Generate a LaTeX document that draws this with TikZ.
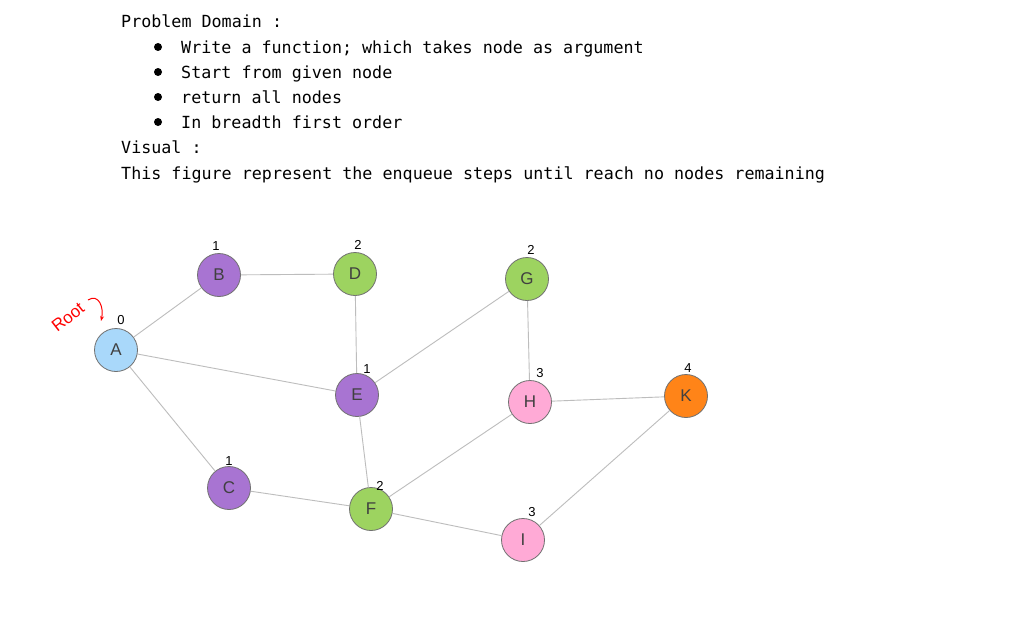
\documentclass[tikz,border=0pt]{standalone}
\usepackage{fontspec}
\setmainfont{Liberation Sans}
\newfontfamily\monof{DejaVu Sans Mono}
\newfontfamily\handf{Liberation Sans}
\usetikzlibrary{arrows.meta}
\definecolor{cblue}{HTML}{A9D8FA}
\definecolor{cpurple}{HTML}{A874D2}
\definecolor{cgreen}{HTML}{9DD360}
\definecolor{cpink}{HTML}{FFAAD6}
\definecolor{corange}{HTML}{FF8418}
\definecolor{cedge}{HTML}{BDBDBD}
\definecolor{cring}{HTML}{707070}
\begin{document}
\begin{tikzpicture}[x=1pt,y=-1pt,
  txt/.style={anchor=base west,inner sep=0pt,font=\monof\fontsize{16.7}{18}\selectfont},
  vert/.style={circle,draw=cring,line width=0.8pt,minimum size=43pt,inner sep=0pt,font=\handf\fontsize{17}{18}\selectfont\color{black!75}},
  lvl/.style={inner sep=0pt,font=\handf\fontsize{13}{13}\selectfont},
  edge/.style={draw=cedge,line width=0.9pt}]
\useasboundingbox (0,0) rectangle (1024,626);
\fill[white] (0,0) rectangle (1024,626);
% text
\node[txt] (t1) at (121,28) {Problem Domain :};
\node[txt] (t2) at (181,53) {Write a function; which takes node as argument};
\node[txt] (t3) at (181,78) {Start from given node};
\node[txt] (t4) at (181,103) {return all nodes};
\node[txt] (t5) at (181,128) {In breadth first order};
\node[txt] (t6) at (121,153) {Visual :};
\node[txt] (t7) at (121,179) {This figure represent the enqueue steps until reach no nodes remaining};
\foreach \y in {47,72,97,122}{\fill (158,\y) circle (4pt);}
% vertices
\node[vert,fill=cblue] (A) at (116,350) {A};
\node[vert,fill=cpurple] (B) at (219,275) {B};
\node[vert,fill=cgreen] (D) at (355,274) {D};
\node[vert,fill=cgreen] (G) at (527,279) {G};
\node[vert,fill=cpurple] (E) at (357,395) {E};
\node[vert,fill=cpink] (H) at (530,402) {H};
\node[vert,fill=corange] (K) at (686,396) {K};
\node[vert,fill=cpurple] (C) at (229,488) {C};
\node[vert,fill=cgreen] (F) at (371,509) {F};
\node[vert,fill=cpink] (I) at (523,540) {I};
% edges
\foreach \a/\b in {A/B,A/E,A/C,B/D,D/E,E/G,E/F,G/H,H/K,H/F,C/F,F/I,I/K}{\path[edge] (\a) -- (\b);}
% levels
\node[lvl] (lA) at (121,320) {0};
\node[lvl] (lB) at (216,246) {1};
\node[lvl] (lD) at (358,245) {2};
\node[lvl] (lG) at (531,250) {2};
\node[lvl] (lE) at (367,369) {1};
\node[lvl] (lH) at (540,373) {3};
\node[lvl] (lK) at (688,368) {4};
\node[lvl] (lC) at (229,461) {1};
\node[lvl] (lF) at (380,486) {2};
\node[lvl] (lI) at (532,512) {3};
% root
\node[inner sep=0pt,rotate=38,text=red,font=\handf\fontsize{17}{17}\selectfont] (root) at (68,317) {Root};
\coordinate (r1) at (88,300);
\coordinate (r2) at (101,321);
\draw[red,line width=1pt,-{Stealth[length=5pt]}] (r1) .. controls (99,293) and (104,308) .. (r2);
\end{tikzpicture}
\end{document}
